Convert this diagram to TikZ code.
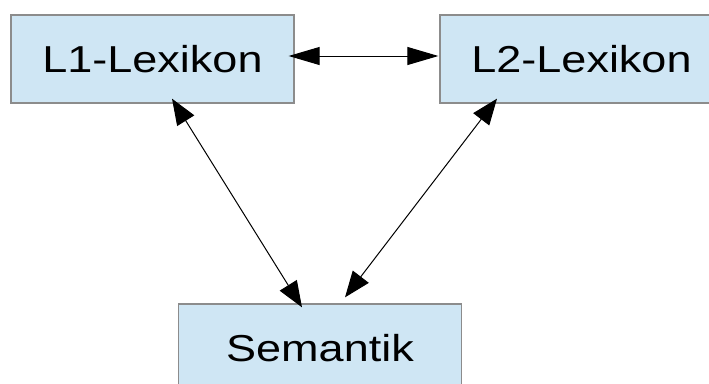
\documentclass[tikz,border=0pt]{standalone}
\usepackage{fontspec}
\newfontfamily\boxfont[FakeStretch=1.2]{Liberation Sans}
\usetikzlibrary{arrows.meta}
\definecolor{boxfill}{HTML}{CFE6F4}
\definecolor{boxline}{HTML}{8C8C8C}
\tikzset{
  lexbox/.style={draw=boxline, line width=1.3pt, fill=boxfill,
    minimum width=283pt, minimum height=88pt, inner sep=0pt,
    font=\boxfont\fontsize{37.5pt}{40pt}\selectfont},
  conn/.style={line width=1pt, draw=black,
    {Triangle[length=26pt,width=20pt]}-{Triangle[length=26pt,width=20pt]}},
  hconn/.style={line width=1pt, draw=black,
    {Triangle[length=31pt,width=18pt]}-{Triangle[length=31pt,width=18pt]}}
}
\begin{document}
\begin{tikzpicture}[x=1pt,y=-1pt]
  \useasboundingbox (0,0) rectangle (709,383);
  % the three boxes
  \node[lexbox] (l1)  at (152.5,59) {L1-Lexikon};
  \node[lexbox] (l2)  at (581.5,59) {L2-Lexikon};
  \node[lexbox] (sem) at (320,348)  {Semantik};
  % two-way links between them
  \draw[hconn] ([xshift=-6pt,yshift=3pt]l1.east) -- ([xshift=-1pt,yshift=3pt]l2.west);
  \draw[conn] ([xshift=19.5pt,yshift=5pt]l1.south) -- ([xshift=-18pt,yshift=-4pt]sem.north);
  \draw[conn] ([xshift=-84.5pt,yshift=5pt]l2.south) -- ([xshift=25pt,yshift=6pt]sem.north);
\end{tikzpicture}
\end{document}
